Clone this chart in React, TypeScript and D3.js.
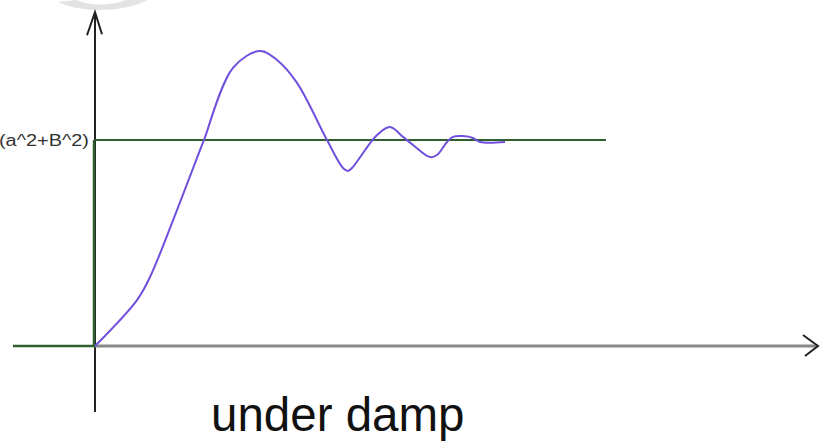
import React from "react";
import * as d3 from "d3";

const timeValues = [0, 0.84, 1.1, 1.64, 2.1, 2.18, 2.76, 3.3, 3.64, 4.04, 4.64, 4.96, 5.06, 5.14, 5.64, 5.9, 6.16, 6.36, 6.7, 6.84, 7.04, 7.16, 7.36, 7.56, 7.7, 8.2];
const responseValues = [0, 0.223, 0.335, 0.66, 0.951, 1.0, 1.35, 1.432, 1.388, 1.277, 1.0, 0.864, 0.85, 0.864, 1.024, 1.063, 1.015, 0.976, 0.917, 0.927, 0.99, 1.015, 1.019, 1.01, 0.99, 0.99];
const steadyStateLabel = "(a^2+B^2)";
const steadyStateValue = 1;
const steadyStateEnd = 10.22;
const chartTitle = "under damp";

const W = 820;
const H = 443;

export default function App() {
  const x = d3.scaleLinear().domain([0, 14.3]).range([95, 810]);
  const y = d3.scaleLinear().domain([0, 1]).range([346, 140]);

  const pts: [number, number][] = timeValues.map((t, i) => [t, responseValues[i]]);
  const line = d3
    .line<[number, number]>()
    .x((d) => x(d[0]))
    .y((d) => y(d[1]))
    .curve(d3.curveCatmullRom.alpha(0.5));

  const x0 = x(0);
  const y0 = y(0);
  const yTop = y(1.62);
  const yBottom = y(-0.32);
  const xLeft = x(-1.64);
  const xRight = x(14.46);

  return (
    <svg
      width={W}
      height={H}
      viewBox={`0 0 ${W} ${H}`}
      style={{ position: "absolute", left: 0, top: 0, background: "#fff" }}
    >
      {/* faint watermark */}
      <path
        d="M58,2 C80,13 122,13 148,0 L126,0 C110,6 92,6 76,0 Z"
        fill="#dcdcdc"
        opacity={0.8}
      />
      {/* y axis (black) */}
      <line x1={x0} y1={yBottom} x2={x0} y2={yTop} stroke="#222" strokeWidth={2} />
      <polyline
        points={`${x0 - 8},${yTop + 23} ${x0},${yTop} ${x0 + 7},${yTop + 22}`}
        fill="none"
        stroke="#222"
        strokeWidth={2}
      />
      {/* x axis (gray) */}
      <line x1={x0} y1={y0} x2={xRight} y2={y0} stroke="#888" strokeWidth={3} />
      <polyline
        points={`${xRight - 15},${y0 - 11} ${xRight},${y0} ${xRight - 13},${y0 + 10}`}
        fill="none"
        stroke="#222"
        strokeWidth={2}
      />
      {/* green guides */}
      <line x1={xLeft} y1={y0} x2={x0} y2={y0} stroke="#2f5f2f" strokeWidth={2.5} />
      <line x1={x0 - 1} y1={y0} x2={x0 - 1} y2={y(steadyStateValue)} stroke="#2f5f2f" strokeWidth={2.5} />
      <line
        x1={x0}
        y1={y(steadyStateValue)}
        x2={x(steadyStateEnd)}
        y2={y(steadyStateValue)}
        stroke="#2f5f2f"
        strokeWidth={2}
      />
      {/* response curve */}
      <path d={line(pts) || ""} fill="none" stroke="#7050dc" strokeWidth={2} />
      {/* label */}
      <text
        x={x0 - 6}
        y={y(steadyStateValue) + 6}
        textAnchor="end"
        fontFamily="Liberation Sans, Arial, sans-serif"
        fontSize={16}
        fill="#333"
        textLength={90}
        lengthAdjust="spacingAndGlyphs"
      >
        {steadyStateLabel}
      </text>
      <text
        x={211}
        y={431}
        fontFamily="Liberation Sans, Arial, sans-serif"
        fontSize={47.5}
        fill="#111"
      >
        {chartTitle}
      </text>
    </svg>
  );
}
